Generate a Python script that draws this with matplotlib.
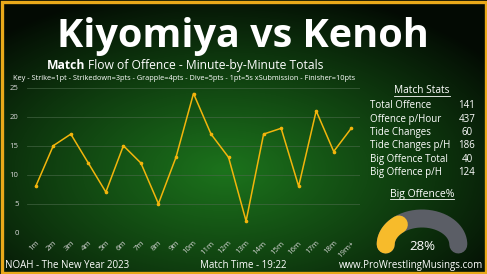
import numpy as np
import matplotlib.pyplot as plt
from matplotlib.patches import Rectangle
from matplotlib.lines import Line2D

W, H = 487, 274
DPI = 100

minutes = ["1m", "2m", "3m", "4m", "5m", "6m", "7m", "8m", "9m", "10m",
           "11m", "12m", "13m", "14m", "15m", "16m", "17m", "18m", "19m+"]
offence = [8, 15, 17, 12, 7, 15, 12, 5, 13, 24, 17, 13, 2, 17, 18, 8, 21, 14, 18]

stat_names = ["Total Offence", "Offence p/Hour", "Tide Changes",
              "Tide Changes p/H", "Big Offence Total", "Big Offence p/H"]
stat_values = [141, 437, 60, 186, 40, 124]
big_pct = 28

GOLD = "#f2b50c"
FONT = "Open Sans"

plt.rcParams['font.family'] = [FONT, 'DejaVu Sans']

fig = plt.figure(figsize=(W / DPI, H / DPI), dpi=DPI)

# background radial gradient
bg = fig.add_axes([0, 0, 1, 1])
yy, xx = np.mgrid[0:H, 0:W]
r = np.sqrt(((xx - 225) / 330.0) ** 2 + ((yy - 170) / 185.0) ** 2)
t = np.clip(1 - r, 0, 1) ** 0.9
dark = np.array([3, 10, 3]) / 255
green = np.array([28, 115, 28]) / 255
img = dark[None, None, :] + (green - dark)[None, None, :] * t[..., None]
bg.imshow(img, extent=[0, W, H, 0], aspect='auto', interpolation='bilinear')
bg.set_xlim(0, W)
bg.set_ylim(H, 0)
bg.axis('off')

# gold frame
bg.add_patch(Rectangle((1.5, 1.5), W - 3, H - 3, fill=False, edgecolor="#e9a91a", lw=2.4))

# title + subtitle
fig.text(243 / W, 1 - 47 / H, "Kiyomiya vs Kenoh", color="white", fontsize=28.5,
         fontweight="bold", ha="center", va="baseline")
sub_y = 1 - 69 / H
t1 = fig.text(47 / W, sub_y, "Match", color="white", fontsize=8.7, fontweight="bold",
              ha="left", va="baseline")
fig.canvas.draw()
rend = fig.canvas.get_renderer()
bb = t1.get_window_extent(rend)
fig.text((bb.x1 + 3) / W, sub_y, "Flow of Offence - Minute-by-Minute Totals",
         color="white", fontsize=8.7, ha="left", va="baseline")
fig.text(13 / W, 1 - 80.5 / H,
         "Key - Strike=1pt - Strikedown=3pts - Grapple=4pts - Dive=5pts - 1pt=5s xSubmission - Finisher=10pts",
         color="white", fontsize=5.3, ha="left", va="baseline")

# main chart
ax = fig.add_axes([27 / W, (H - 232.7) / H, 333 / W, 145 / H])
ax.patch.set_alpha(0)
x = np.arange(len(minutes))
ax.plot(x, offence, color=GOLD, lw=1.1, marker="o", ms=1.6, zorder=3)
ax.set_xlim(-0.5, len(minutes) - 0.5)
ax.set_ylim(0, 25)
ax.set_yticks([0, 5, 10, 15, 20, 25])
ax.set_xticks(x)
ax.set_xticklabels(minutes, rotation=45, ha="right", rotation_mode="anchor")
ax.tick_params(axis="both", length=0, labelsize=5.6, labelcolor="#d8d8d8")
ax.tick_params(axis="x", pad=5)
ax.tick_params(axis="y", pad=6)
ax.grid(axis="y", color="#4a6a4a", lw=0.6, alpha=0.7)
ax.set_axisbelow(True)
for s in ax.spines.values():
    s.set_visible(False)

# stats panel
def underlined(xc, ybase, text, size):
    tt = fig.text(xc / W, 1 - ybase / H, text, color="white", fontsize=size,
                  ha="center", va="baseline")
    fig.canvas.draw()
    b = tt.get_window_extent(fig.canvas.get_renderer())
    uy = (H - ybase - 2.2) / H
    fig.add_artist(Line2D([b.x0 / W, b.x1 / W], [uy, uy], color="white", lw=0.6))

underlined(422, 93.3, "Match Stats", 7.3)
for i, (name, val) in enumerate(zip(stat_names, stat_values)):
    yb = 108.3 + i * 13.33
    fig.text(370 / W, 1 - yb / H, name, color="white", fontsize=7.0, ha="left", va="baseline")
    fig.text(467 / W, 1 - yb / H, str(val), color="white", fontsize=7.0, ha="center", va="baseline")

underlined(422, 196.7, "Big Offence%", 7.5)

# gauge (pixel coords on bg axes)
cx, cy, a, b = 422, 244.5, 36.3, 26.0
lw_pt = 18 * 72 / DPI
th = np.linspace(np.pi, 0, 200)
bg.plot(cx + a * np.cos(th), cy - b * np.sin(th), color="#5b5e66", lw=lw_pt,
        solid_capstyle="round")
thp = np.linspace(np.pi, np.pi - np.pi * big_pct / 100, 80)
bg.plot(cx + a * np.cos(thp), cy - b * np.sin(thp), color="#f7bb2b", lw=lw_pt,
        solid_capstyle="round")
fig.text(422 / W, 1 - 250 / H, f"{big_pct}%", color="white", fontsize=9.5,
         ha="center", va="baseline")

# footer
foot_y = 1 - 268 / H
fig.text(5 / W, foot_y, "NOAH - The New Year 2023", color="white", fontsize=7.0,
         ha="left", va="baseline")
fig.text(243 / W, foot_y, "Match Time - 19:22", color="white", fontsize=7.0,
         ha="center", va="baseline")
fig.text(483 / W, foot_y, "www.ProWrestlingMusings.com", color="white", fontsize=7.0,
         ha="right", va="baseline")

fig.savefig("out.png", dpi=DPI)
